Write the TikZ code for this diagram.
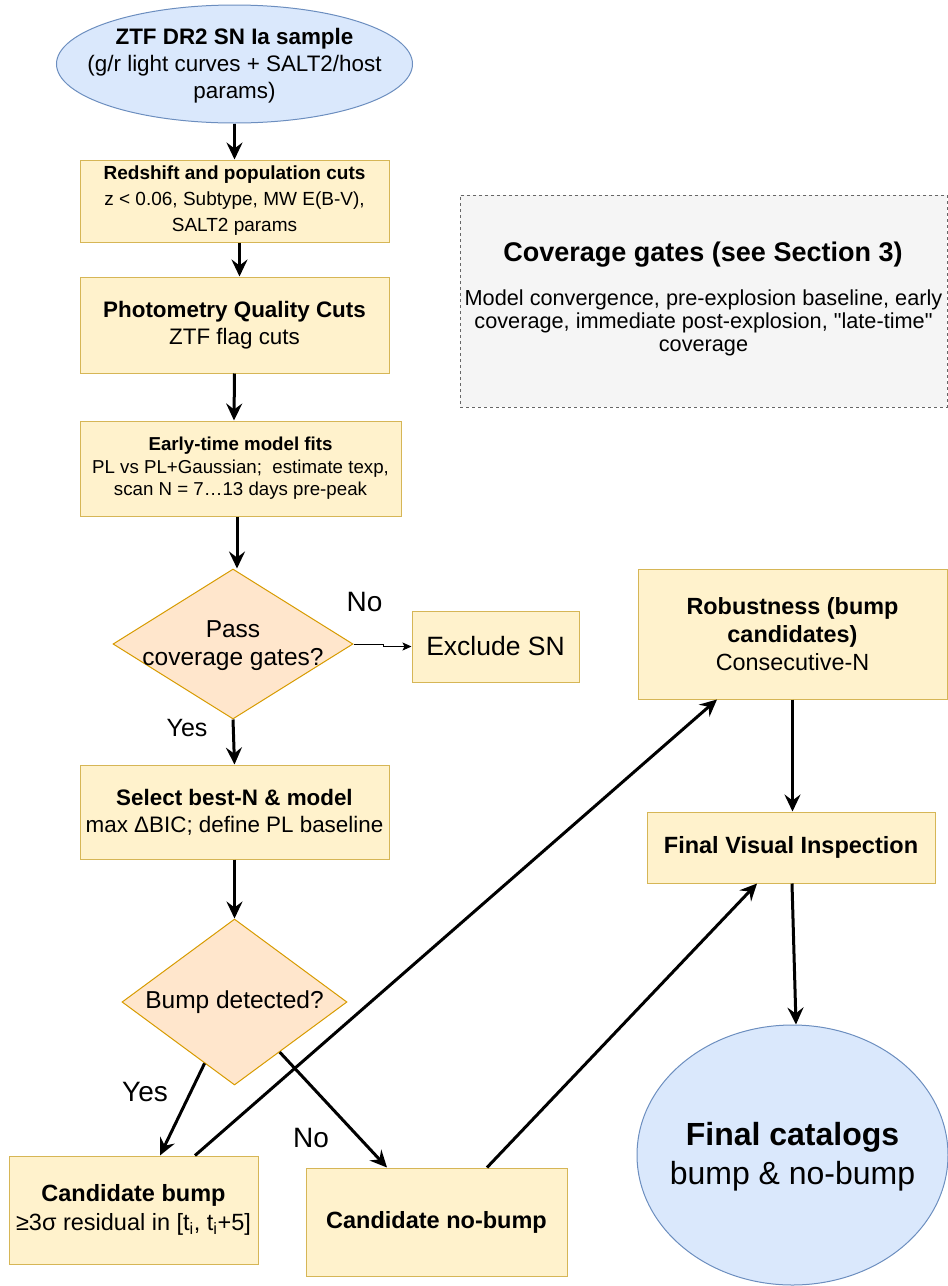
\documentclass[tikz,border=0pt]{standalone}
\usepackage{fontspec}
\setmainfont{Liberation Sans}
\newfontfamily\qfont{Liberation Sans}[Ligatures=TeXOff]
\usetikzlibrary{shapes.geometric,arrows.meta,calc}
\definecolor{boxfill}{HTML}{FFF2CC}
\definecolor{boxdraw}{HTML}{D6B656}
\definecolor{decfill}{HTML}{FFE6CC}
\definecolor{decdraw}{HTML}{D79B00}
\definecolor{ellfill}{HTML}{DAE8FC}
\definecolor{elldraw}{HTML}{6C8EBF}
\definecolor{notefill}{HTML}{F5F5F5}
\definecolor{notedraw}{HTML}{666666}
\newcommand\fsz[2]{\fontsize{#1}{#2}\selectfont}
\newcommand\sq{{\qfont"}}
\begin{document}
\begin{tikzpicture}[x=1pt,y=-1pt,
 box/.style={draw=boxdraw, fill=boxfill, line width=1pt, inner sep=0pt, align=center},
 decision/.style={diamond, draw=decdraw, fill=decfill, line width=1pt, inner sep=0pt},
 terminal/.style={ellipse, draw=elldraw, fill=ellfill, line width=1pt, inner sep=0pt},
 note/.style={draw=notedraw, fill=notefill, line width=0.8pt, dash pattern=on 3pt off 3pt, inner sep=0pt},
 flow/.style={line width=3pt, -{Stealth[length=17pt,width=16pt,inset=6pt]}},
 thinflow/.style={line width=1pt, -{Stealth[length=9pt,width=8pt,inset=2pt]}},
 lbl/.style={inner sep=0pt, align=center},
]
\useasboundingbox (0,0) rectangle (948,1286);

% nodes
\node[terminal, minimum width=356pt, minimum height=118pt] (src) at (234.5,64) {};
\node[lbl, font=\fsz{22.4}{27}] at (234.5,65.5) {\textbf{ZTF DR2 SN Ia sample}\\(g/r light curves + SALT2/host\\params)};

\node[box, minimum width=309pt, minimum height=82pt, font=\fsz{19}{26}] (cuts) at (234.5,201)
  {\textbf{Redshift and population cuts}\\z < 0.06, Subtype, MW E(B-V),\\SALT2 params};

\node[box, minimum width=309pt, minimum height=96pt, font=\fsz{22.4}{27}] (phot) at (234.5,325)
  {\textbf{Photometry Quality Cuts}\\ZTF flag cuts};

\node[box, minimum width=321pt, minimum height=95pt, font=\fsz{18.7}{22.5}] (fits) at (240.5,468.5)
  {\textbf{Early-time model fits}\\PL vs PL+Gaussian;~ estimate texp,\\scan N = 7…13 days pre-peak};

\node[decision, minimum width=240pt, minimum height=150pt] (d1) at (233,644) {};
\node[lbl, font=\fsz{24.5}{28}] at (233,646) {Pass\\coverage gates?};

\node[box, minimum width=167pt, minimum height=71pt, font=\fsz{26.5}{30}] (ex) at (495.5,646.5) {Exclude SN};

\node[box, minimum width=309pt, minimum height=94pt, font=\fsz{22.4}{27}] (sel) at (234.5,812)
  {\textbf{Select best-N \& model}\\max ΔBIC; define PL baseline};

\node[decision, minimum width=225pt, minimum height=166pt] (d2) at (234.5,1002) {};
\node[lbl, font=\fsz{24.5}{28}] at (d2) {Bump detected?};

\node[box, minimum width=249pt, minimum height=108pt, font=\fsz{23.5}{29}] (cb) at (133.5,1210)
  {\textbf{Candidate bump}\\≥3σ residual in [t\textsubscript{i}, t\textsubscript{i}+5]};

\node[box, minimum width=261pt, minimum height=108pt, font=\fsz{23.5}{28}] (cnb) at (436.5,1222)
  {\textbf{Candidate no-bump}};

\node[box, minimum width=309pt, minimum height=130pt, font=\fsz{23.4}{28}] (rob) at (792.5,634)
  {\textbf{Robustness (bump}\\\textbf{candidates)}\\Consecutive-N};

\node[box, minimum width=288pt, minimum height=71pt, font=\fsz{23.5}{28}] (fvi) at (791,847.5)
  {\textbf{Final Visual Inspection}};

\node[terminal, minimum width=311pt, minimum height=260pt] (fin) at (792.5,1155) {};
\node[lbl, font=\fsz{32}{39}] at (792.5,1157) {\textbf{Final catalogs}\\bump \& no-bump};

\node[note, minimum width=487pt, minimum height=212pt] (gates) at (703.5,301) {};
\node[lbl, font=\fsz{27}{30}] (gtitle) at (703,255) {\textbf{Coverage gates (see Section 3)}};
\node[lbl, font=\fsz{21.7}{23}] (gbody) at (703.5,323) {Model convergence, pre-explosion baseline, early\\coverage, immediate post-explosion, \sq late-time\sq\\coverage};

% edge labels
\node[lbl, font=\fsz{28}{28}] (no1) at (364.5,602) {No};
\node[lbl, font=\fsz{25}{25}] (yes1) at (187,728) {Yes};
\node[lbl, font=\fsz{28}{28}] (yes2) at (145,1092) {Yes};
\node[lbl, font=\fsz{28}{28}] (no2) at (311,1138) {No};

% connectors
\draw[flow] (src.south) -- (cuts.north);
\draw[flow] ([xshift=5pt]cuts.south) -- ([xshift=5pt]phot.north);
\draw[flow] (phot.south) -- ([xshift=-6.5pt]fits.north);
\draw[flow] ([xshift=-3.5pt]fits.south) -- ([xshift=-3.5pt]fits.south |- d1.north);
\draw[thinflow] (d1.east) -- ++(30,0) |- (ex.west);
\draw[flow] (d1.south) -- (sel.north);
\draw[flow] (sel.south) -- (d2.north);
\draw[flow] ($(d2.south)!0.265!(d2.west)$) -- ([xshift=26.5pt]cb.north);
\draw[flow] ($(d2.south)!0.4!(d2.east)$) -- ([xshift=-49.5pt]cnb.north);
\draw[flow] ([xshift=61.5pt]cb.north) -- ([xshift=-75.5pt]rob.south);
\draw[flow] ([xshift=50.5pt]cnb.north) -- ([xshift=-34pt]fvi.south);
\draw[flow] (rob.south) -- (rob.south |- fvi.north);
\draw[flow] ([xshift=1pt]fvi.south) -- ([xshift=3.5pt]fin.north);
\end{tikzpicture}
\end{document}
